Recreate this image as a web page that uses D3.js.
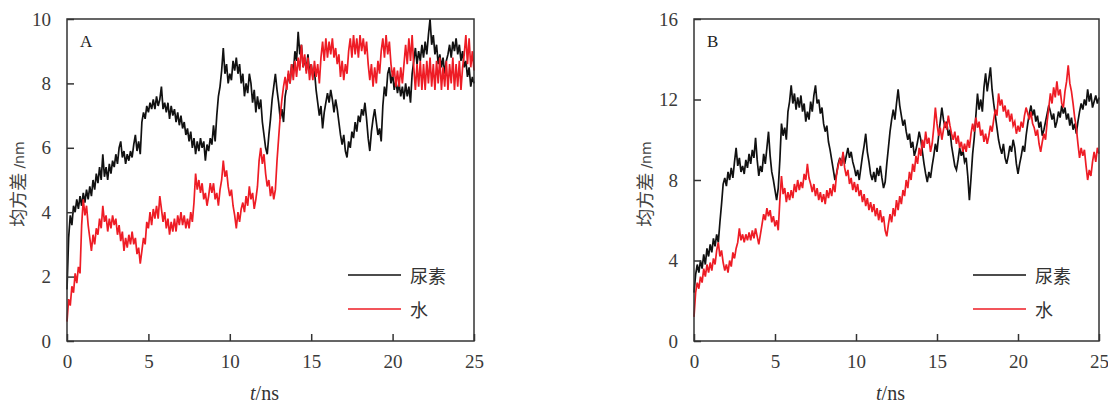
<!DOCTYPE html>
<html>
<head>
<meta charset="utf-8">
<script src="https://cdn.jsdelivr.net/npm/d3@7"></script>
<style>
  body { margin: 0; background: #fff; }
  svg { display: block; }
  svg text.serif, svg .serif tspan { font-family: "Liberation Serif", "Times New Roman", serif; }
</style>
</head>
<body>
<svg id="chart" width="1108" height="403"></svg>
<script>
// time step of the sampled trajectories (ns)
const timeStep = 0.1;
const seriesNames = ["尿素", "水"];
const xTicks = [0, 5, 10, 15, 20, 25];
const yTicksA = [0, 2, 4, 6, 8, 10];
const yTicksB = [0, 4, 8, 12, 16];

// panel A, urea (black)
const ureaA = [
  1.6, 3.2, 3.9, 3.6, 4.2, 4.0, 4.4, 4.1, 4.5, 4.2,
  4.6, 4.3, 4.7, 4.4, 4.8, 4.5, 5.0, 4.7, 5.2, 4.9,
  5.4, 5.0, 5.8, 5.1, 5.4, 5.0, 5.5, 5.2, 5.6, 5.4,
  5.8, 5.5, 6.0, 6.2, 5.7, 5.9, 5.5, 5.8, 5.6, 5.9,
  5.7, 6.1, 6.4, 5.9, 6.2, 5.8, 6.8, 7.1, 6.9, 7.3,
  7.1, 7.4, 7.2, 7.5, 7.2, 7.6, 7.3, 7.5, 7.9, 7.2,
  7.4, 7.1, 7.4, 6.9, 7.3, 7.0, 7.2, 6.8, 7.1, 6.7,
  7.0, 6.6, 6.8, 6.4, 6.6, 6.2, 6.5, 6.0, 6.3, 5.8,
  6.2, 5.9, 6.3, 6.0, 6.2, 5.6, 6.1, 5.9, 6.3, 6.1,
  6.7, 6.2, 7.0, 7.6, 7.9, 8.4, 9.1, 8.3, 8.6, 8.0,
  8.3, 8.1, 8.7, 8.4, 8.8, 8.3, 8.6, 8.0, 8.3, 7.6,
  8.0, 7.7, 8.3, 8.0, 7.4, 7.8, 7.1, 7.6, 7.2, 7.5,
  6.8, 6.4, 6.0, 5.8, 6.4, 6.9, 7.5, 7.9, 8.3, 7.8,
  7.4, 6.9, 7.2, 6.8, 7.6, 7.9, 8.3, 8.0, 8.6, 8.3,
  9.0, 8.7, 9.6, 8.9, 9.2, 8.5, 8.8, 8.4, 8.9, 8.3,
  8.6, 8.2, 8.4, 7.8, 7.4, 7.0, 7.3, 6.6, 7.1, 7.4,
  7.7, 7.4, 7.8, 7.5, 7.1, 7.5, 7.2, 6.8, 6.4, 6.1,
  6.4, 5.9, 5.7, 6.2, 6.0, 6.5, 6.3, 6.8, 6.5, 7.0,
  6.8, 7.2, 7.0, 7.4, 6.9, 6.3, 5.9, 6.5, 6.9, 7.2,
  6.8, 6.4, 6.6, 6.2, 7.3, 7.9, 7.6, 8.3, 8.5, 8.0,
  8.3, 7.8, 8.1, 7.7, 8.0, 7.6, 7.9, 7.5, 8.0, 7.6,
  7.9, 7.4, 8.3, 8.7, 9.1, 8.6, 9.0, 8.7, 9.2, 8.8,
  9.3, 8.9, 9.5, 10.0, 9.2, 9.5, 8.9, 9.2, 8.6, 8.9,
  8.5, 8.8, 8.3, 8.7, 8.9, 9.2, 8.8, 9.3, 9.0, 9.4,
  8.9, 9.2, 8.7, 9.0, 8.5, 8.7, 8.2, 8.5, 7.9, 8.2,
  8.0
];

// panel A, water (red)
const waterA = [
  0.6, 1.3, 1.1, 1.7, 1.5, 2.1, 1.8, 2.3, 2.1, 3.6,
  4.4, 3.9, 4.2, 3.6, 3.2, 2.8, 3.3, 3.0, 3.5, 3.3,
  3.8, 3.5, 4.2, 3.7, 3.9, 3.4, 3.8, 3.5, 3.9, 3.6,
  3.8, 3.3, 3.6, 3.1, 3.4, 2.8, 3.2, 2.9, 3.3, 3.0,
  3.4, 3.0, 3.2, 2.7, 2.9, 2.4, 2.8, 3.2, 3.0, 3.7,
  3.5, 4.0, 3.6, 4.1, 3.8, 4.2, 3.8, 4.5, 4.1, 3.7,
  4.0, 3.5, 3.8, 3.3, 3.7, 3.4, 3.8, 3.4, 3.9, 3.6,
  4.0, 3.6, 3.9, 3.5, 3.8, 3.5, 4.0, 3.7, 4.3, 5.2,
  4.7, 5.0, 4.6, 4.9, 4.4, 4.6, 4.2, 4.5, 4.9, 4.6,
  4.9, 4.4, 4.6, 4.2, 4.7, 5.0, 5.6, 5.1, 5.3, 4.8,
  4.5, 4.7, 4.2, 3.9, 3.5, 4.0, 3.7, 4.1, 4.3, 4.0,
  4.5, 4.2, 4.8, 4.4, 4.6, 4.1, 4.4, 4.8, 5.6, 6.0,
  5.5, 5.8, 5.2, 4.8, 5.0, 4.5, 4.8, 4.4, 4.7, 5.6,
  6.3, 7.0, 7.5, 7.9, 8.2, 7.8, 8.4, 8.0, 8.6, 8.1,
  8.7, 8.2, 8.8, 8.4, 9.2, 8.5, 8.9, 8.3, 8.8, 8.1,
  8.6, 8.1, 8.7, 8.2, 8.6, 8.0, 8.8, 9.3, 8.7, 9.4,
  8.8, 9.3, 8.9, 9.4, 8.8, 9.1, 8.6, 8.9, 8.2, 8.7,
  8.1, 8.6, 8.3, 9.0, 9.4, 8.8, 9.5, 8.9, 9.4, 8.8,
  9.5, 9.0, 9.4, 8.9, 9.3, 8.6, 8.1, 8.6, 7.9, 8.5,
  8.0, 8.7, 8.3, 9.0, 9.4, 8.8, 9.5, 8.9, 9.3, 8.6,
  8.2, 8.5, 7.9, 8.4, 7.9, 8.5, 8.0, 8.6, 9.2, 8.6,
  9.4, 8.7, 9.5, 8.5, 7.8, 8.6, 7.9, 8.7, 7.8, 8.6,
  7.8, 8.7, 8.0, 8.8, 7.9, 8.6, 7.8, 8.7, 8.0, 8.8,
  7.8, 8.5, 7.9, 8.7, 7.8, 8.6, 8.0, 8.8, 7.8, 8.6,
  7.9, 8.7, 7.8, 8.5, 8.9, 9.5, 8.6, 9.4, 8.5, 9.0,
  8.4
];

// panel B, urea (black)
const ureaB = [
  2.4, 3.3, 3.8, 3.4, 4.0, 3.6, 4.3, 3.8, 4.6, 4.2,
  4.8, 4.4, 5.1, 4.7, 5.3, 4.9, 5.9, 6.8, 7.8, 8.1,
  7.7, 8.4, 8.0, 8.6, 8.1, 8.9, 9.6, 8.7, 9.1, 8.4,
  8.7, 8.3, 9.0, 8.6, 9.3, 8.8, 9.5, 9.1, 10.1, 9.0,
  8.2, 8.7, 8.4, 9.3, 8.8, 9.6, 10.4, 9.2, 8.4, 8.0,
  7.5, 7.0, 7.6, 9.0, 10.8, 10.2, 10.6, 10.0, 11.4, 11.9,
  12.7, 11.8, 12.3, 11.5, 12.1, 11.6, 12.2, 11.4, 11.8, 10.9,
  11.4, 11.0, 11.9, 11.4, 12.2, 12.7, 11.8, 12.0, 11.3, 11.6,
  10.8, 10.4, 10.7, 9.9, 9.5, 9.0, 8.5, 8.0, 8.3, 8.8,
  9.1, 8.7, 9.3, 8.8, 9.2, 9.6, 9.1, 9.4, 8.9, 8.6,
  8.2, 8.5, 8.0, 8.6, 9.2, 9.7, 10.3, 9.4, 8.9, 8.3,
  8.0, 8.4, 7.9, 8.6, 8.2, 8.7, 8.1, 7.6, 7.9, 8.8,
  9.6, 10.4, 11.0, 11.5, 11.0, 11.8, 12.5, 11.7, 11.2, 10.7,
  11.0, 10.4, 10.0, 10.3, 9.6, 9.9, 9.2, 9.5, 9.9, 10.4,
  10.0, 9.4, 8.8, 8.3, 7.9, 8.4, 8.1, 8.7, 9.2, 9.8,
  9.4, 10.2, 10.9, 11.6, 11.0, 10.6, 10.9, 10.2, 10.5, 9.7,
  9.2, 8.7, 8.5, 9.0, 9.6, 9.2, 9.5, 8.9, 9.1, 8.2,
  7.0, 8.1, 9.3, 10.1, 11.2, 12.3, 11.5, 12.0, 11.4, 12.6,
  13.3, 12.4, 13.0, 13.6, 12.5, 11.8, 11.2, 10.6, 10.0, 9.6,
  9.3, 9.8, 9.1, 8.8, 9.2, 9.7, 9.4, 10.0, 9.6, 8.8,
  8.3, 8.8, 9.2, 9.7, 9.4, 10.2, 10.8, 11.3, 11.7, 11.2,
  11.5, 10.9, 11.2, 10.6, 10.9, 10.2, 10.5, 10.9, 11.3, 11.7,
  11.4, 11.0, 11.3, 10.6, 10.9, 11.4, 11.1, 11.7, 11.3, 11.6,
  11.0, 11.3, 10.7, 11.1, 10.5, 10.8, 10.3, 10.9, 11.4, 11.8,
  11.5, 12.0, 11.7, 12.5, 11.9, 12.3, 11.6, 11.9, 12.2, 11.8,
  12.1
];

// panel B, water (red)
const waterB = [
  1.2, 2.4, 2.9, 2.6, 3.2, 2.9, 3.6, 3.2, 3.8, 3.4,
  3.9, 3.5, 4.1, 3.8, 4.5, 4.9, 4.2, 4.5, 3.9, 3.5,
  3.8, 3.4, 4.0, 3.7, 4.4, 4.1, 4.6, 4.9, 5.6, 5.0,
  5.3, 4.9, 5.3, 5.0, 5.4, 5.0, 5.5, 5.1, 5.6, 5.2,
  4.8, 5.3, 5.8, 6.3, 6.0, 6.6, 6.2, 6.5, 5.9, 6.2,
  5.7, 6.0, 5.5, 7.0, 8.2, 7.3, 7.6, 6.9, 7.4, 7.0,
  7.5, 7.1, 7.8, 7.4, 8.0, 7.5, 7.9, 7.6, 8.3, 8.0,
  8.8, 8.1, 7.8, 7.4, 7.8, 7.2, 7.6, 7.0, 7.4, 6.9,
  7.3, 6.8, 7.5, 7.1, 7.6, 7.2, 7.8, 7.4, 8.3, 8.7,
  9.0, 8.7, 9.4, 8.6, 8.2, 8.5, 7.8, 8.1, 7.5, 7.9,
  7.4, 7.8, 7.2, 7.5, 6.9, 7.3, 6.7, 7.1, 6.5, 6.9,
  6.4, 6.8, 6.2, 6.6, 6.0, 6.5, 5.9, 6.2, 5.5, 5.2,
  5.8, 6.3, 5.9, 6.6, 6.2, 7.0, 6.5, 7.2, 6.8, 7.5,
  7.2, 8.0, 7.6, 8.4, 8.0, 8.8, 8.4, 9.2, 8.8, 9.6,
  9.2, 10.0, 9.6, 10.4, 9.8, 10.1, 9.4, 9.8, 10.6, 11.6,
  10.8, 10.2, 10.6, 10.0, 10.5, 10.9, 10.5, 11.2, 10.7, 10.3,
  10.0, 10.4, 9.8, 10.2, 9.6, 9.9, 9.4, 9.8, 9.4, 10.0,
  9.6, 10.3, 10.8, 10.4, 11.1, 10.6, 10.9, 10.2, 10.5, 9.9,
  10.3, 9.8, 10.2, 10.7, 10.4, 11.0, 11.5, 11.2, 12.3, 11.7,
  12.0, 11.4, 11.7, 11.1, 11.5, 10.9, 11.3, 10.7, 10.9, 10.3,
  10.7, 10.4, 10.9, 10.6, 11.2, 11.6, 11.3, 11.0, 11.4, 10.8,
  10.6, 10.2, 10.5, 9.8, 9.4, 9.9, 10.3, 10.0, 10.9, 11.6,
  12.3, 11.8, 12.6, 12.1, 12.9, 12.2, 12.5, 11.8, 11.6, 12.4,
  12.9, 13.7, 12.8, 12.4, 11.8, 11.1, 10.6, 9.8, 9.1, 9.6,
  9.2, 9.5, 8.7, 8.0, 8.5, 8.2, 8.9, 9.4, 8.9, 9.6,
  9.3
];

const colors = ["#111111", "#ee1c25"];
const svg = d3.select("#chart");

function drawPanel(cfg) {
  const g = svg.append("g");
  const x = d3.scaleLinear().domain([0, 25]).range([cfg.left, cfg.right]);
  const y = d3.scaleLinear().domain([0, cfg.yMax]).range([cfg.bottom, cfg.top]);

  const line = d3.line()
    .x((d, i) => x(i * timeStep))
    .y(d => y(d));

  // series: black first, red on top
  cfg.series.forEach((s, k) => {
    g.append("path")
      .datum(s)
      .attr("fill", "none")
      .attr("stroke", colors[k])
      .attr("stroke-width", 1.7)
      .attr("d", line);
  });

  // frame
  g.append("rect")
    .attr("x", cfg.left).attr("y", cfg.top)
    .attr("width", cfg.right - cfg.left).attr("height", cfg.bottom - cfg.top)
    .attr("fill", "none").attr("stroke", "#333").attr("stroke-width", 1.5);

  // axes with inward ticks
  const xAxis = d3.axisBottom(x).tickValues(xTicks).tickSizeInner(-7).tickSizeOuter(0).tickPadding(14);
  const xg = g.append("g").attr("transform", `translate(0,${cfg.bottom})`).call(xAxis);
  xg.select(".domain").remove();
  xg.selectAll("line").attr("stroke", "#333").attr("stroke-width", 1.5);

  const yAxis = d3.axisLeft(y).tickValues(cfg.yTicks).tickSizeInner(-7).tickSizeOuter(0).tickPadding(16);
  const yg = g.append("g").attr("transform", `translate(${cfg.left},0)`).call(yAxis);
  yg.select(".domain").remove();
  yg.selectAll("line").attr("stroke", "#333").attr("stroke-width", 1.5);

  [xg, yg].forEach(a => a.attr("font-family", null).attr("font-size", null)
    .selectAll("text")
    .attr("class", "serif")
    .style("font-size", "19px")
    .attr("fill", "#3a3a3a"));

  // panel letter
  g.append("text")
    .attr("class", "serif")
    .attr("x", cfg.left + 13).attr("y", cfg.top + 28)
    .style("font-size", "17px").attr("fill", "#222")
    .text(cfg.letter);

  // y label
  const yl = g.append("text")
    .attr("transform", `translate(${cfg.left - 47},${(cfg.top + cfg.bottom) / 2 + 4}) rotate(-90)`)
    .attr("text-anchor", "middle").attr("dominant-baseline", "middle").attr("fill", "#444");
  yl.append("tspan").style("font-family", "'Noto Sans CJK SC'").style("font-size", "18px").text("均方差 ");
  yl.append("tspan").style("font-family", "'DejaVu Sans', sans-serif").style("font-size", "14px").text("/nm");

  // x label
  const xl = g.append("text")
    .attr("class", "serif")
    .attr("x", (cfg.left + cfg.right) / 2 - 6).attr("y", cfg.bottom + 59)
    .attr("text-anchor", "middle")
    .style("font-size", "20px").attr("fill", "#333");
  xl.append("tspan").style("font-style", "italic").text("t");
  xl.append("tspan").text("/ns");

  // legend
  seriesNames.forEach((name, k) => {
    const ly = cfg.bottom - 66 + k * 34;
    g.append("line")
      .attr("x1", cfg.right - 126).attr("x2", cfg.right - 73)
      .attr("y1", ly).attr("y2", ly)
      .attr("stroke", colors[k]).attr("stroke-width", 1.5);
    g.append("text")
      .attr("x", cfg.right - 64).attr("y", ly)
      .attr("dominant-baseline", "central")
      .style("font-family", "'Noto Sans CJK SC'").style("font-size", "18px").attr("fill", "#333")
      .text(name);
  });
}

drawPanel({ left: 67, right: 474, top: 19, bottom: 341, yMax: 10, yTicks: yTicksA, letter: "A", series: [ureaA, waterA] });
drawPanel({ left: 694, right: 1099, top: 19, bottom: 341, yMax: 16, yTicks: yTicksB, letter: "B", series: [ureaB, waterB] });
</script>
</body>
</html>
